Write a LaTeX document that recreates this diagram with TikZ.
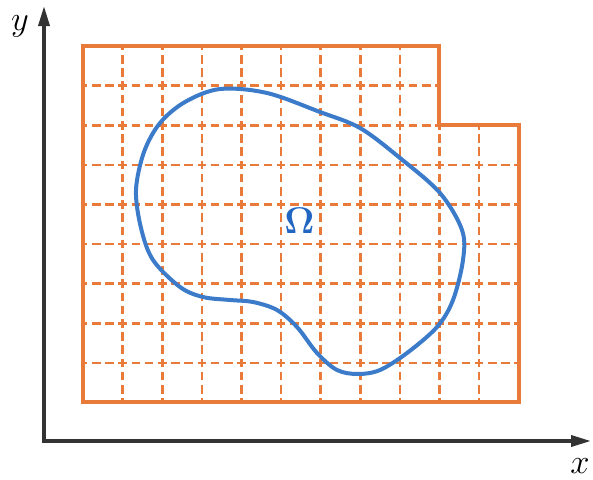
\documentclass[tikz,border=0pt]{standalone}
\usetikzlibrary{arrows.meta}
\definecolor{gridor}{HTML}{E97B3A}
\definecolor{curveblue}{HTML}{3B7BC9}
\definecolor{omegablue}{HTML}{2166C0}
\definecolor{axisgray}{HTML}{333333}
\begin{document}
\begin{tikzpicture}[x=1pt,y=-1pt,
  gridline/.style={gridor, line width=2.6pt, dash pattern=on 8.6pt off 4.6pt, dash phase=4.3pt},
  border/.style={gridor, line width=4pt, line join=miter},
  region/.style={curveblue, line width=4pt},
  axis/.style={axisgray, line width=3.5pt, line join=miter,
    {Triangle[length=20pt,width=11pt]}-{Triangle[length=20pt,width=11pt]}},
  lbl/.style={font=\fontsize{19}{23}\selectfont, inner sep=0pt, scale=2}]
\useasboundingbox (0,0) rectangle (593,479);
% dashed grid
\foreach \i in {1,...,8}
  \draw[gridline] ({83+\i*39.6},46) -- ({83+\i*39.6},402.4);
\foreach \i in {9,10}
  \draw[gridline] ({83+\i*39.6},125.2) -- ({83+\i*39.6},402.4);
\foreach \j in {1,2}
  \draw[gridline] (83,{46+\j*39.6}) -- (439.4,{46+\j*39.6});
\foreach \j in {3,...,8}
  \draw[gridline] (83,{46+\j*39.6}) -- (518.6,{46+\j*39.6});
% border
\draw[border] (83,46) -- (439.4,46) -- (439.4,125.2) -- (518.6,125.2)
  -- (518.6,402.4) -- (83,402.4) -- cycle;
% region boundary
\draw[region] plot[smooth cycle, tension=0.55] coordinates {
  (220,89) (267,93) (320,112) (360,128) (400,158) (440,193) (462,230)
  (463,260) (453,300) (437,327) (407,353) (380,370) (358,374) (337,370)
  (317,353) (297,327) (277,310) (253,302) (230,300) (203,297) (180,287)
  (153,260) (141,228) (136,190) (144,152) (160,123) (185,102)};
% axes
\coordinate (O) at (44,441);
\coordinate (xend) at (591,441);
\coordinate (yend) at (44,6);
\draw[axis] (yend) -- (O) -- (xend);
% labels
\node[text=omegablue, font=\fontsize{17}{20}\selectfont, inner sep=0pt, scale=2.15] (omega) at (299.5,220.5) {$\mathbf{\Omega}$};
\node[lbl, anchor=base] (ylab) at (20,30) {$y$};
\node[lbl, anchor=base] (xlab) at (580,473) {$x$};
\end{tikzpicture}
\end{document}
